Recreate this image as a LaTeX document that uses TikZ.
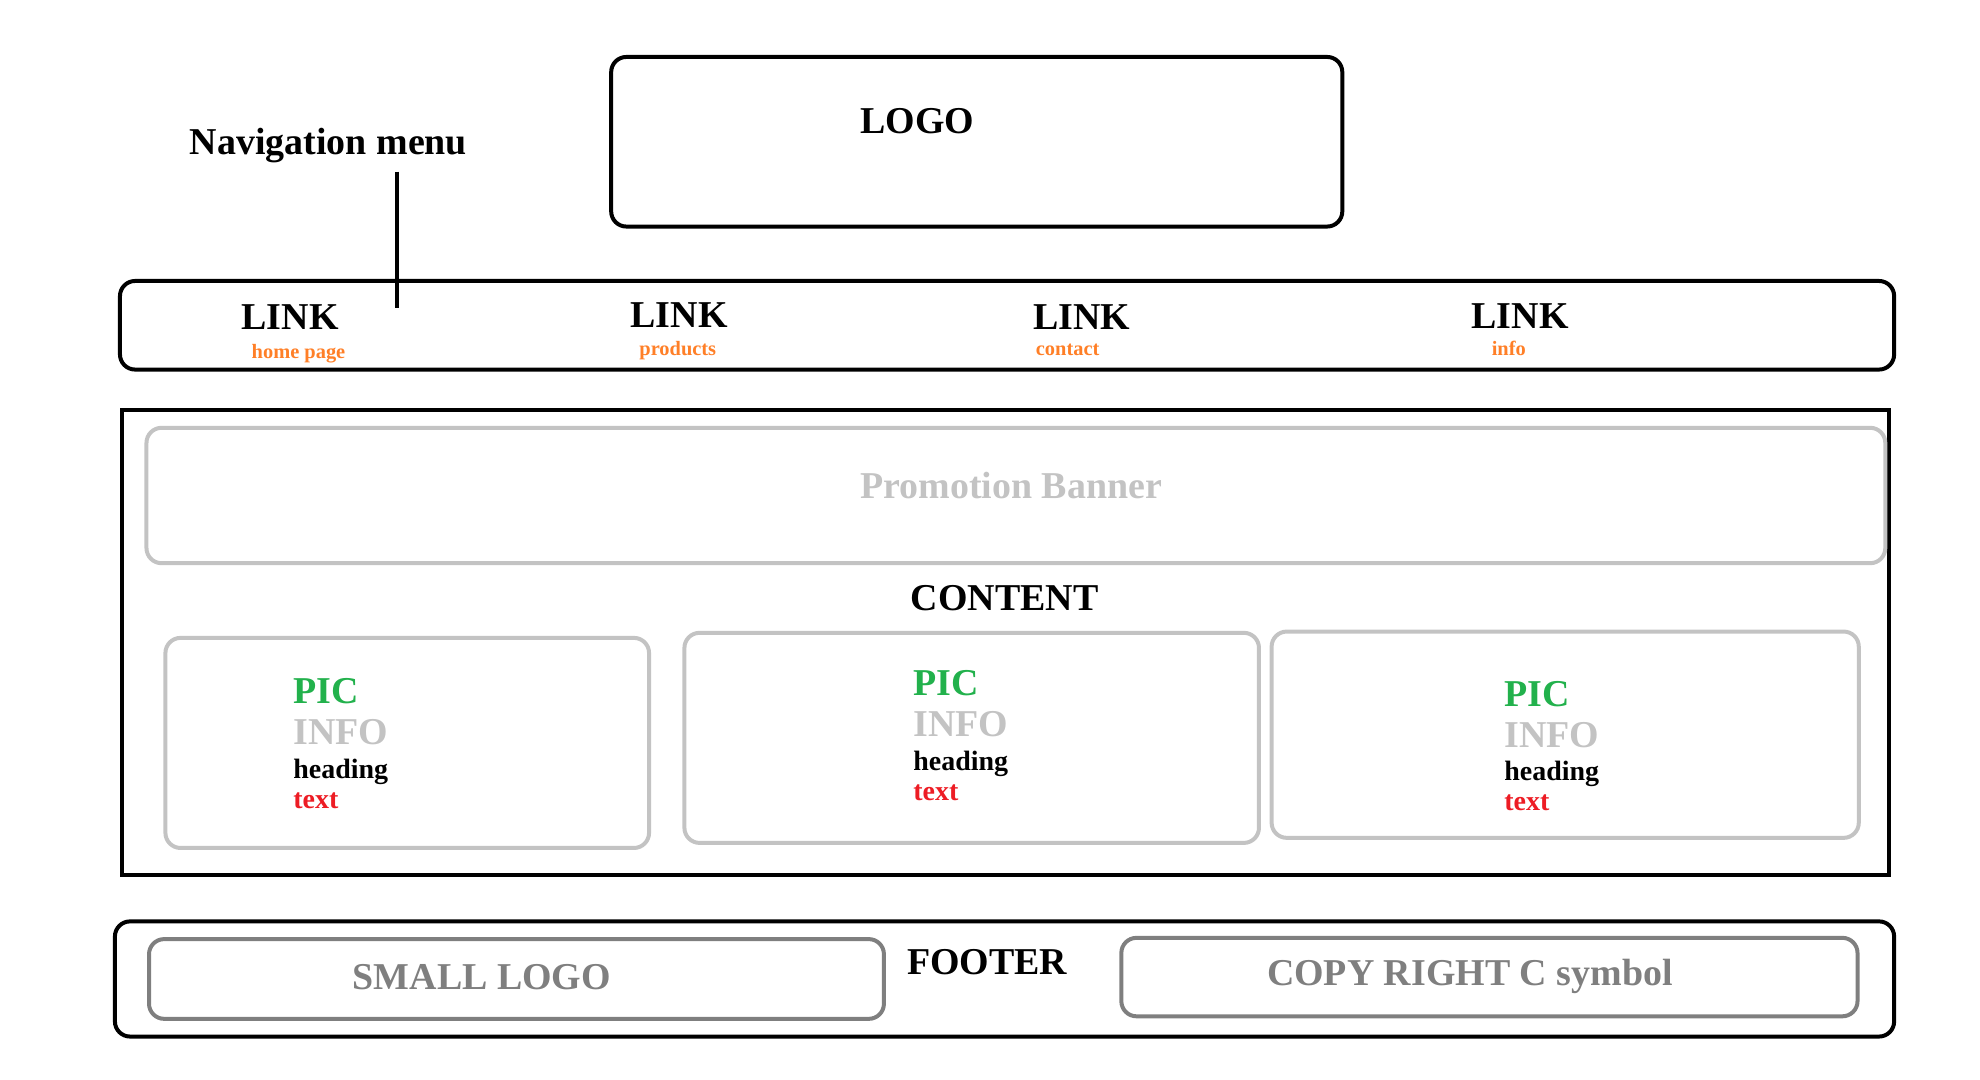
\documentclass[tikz,border=0pt]{standalone}
\usepackage{fontspec}
\setmainfont{Liberation Serif}
\usetikzlibrary{fit}
\definecolor{picgreen}{HTML}{22B14C}
\definecolor{lightgr}{HTML}{C3C3C3}
\definecolor{darkgr}{HTML}{7F7F7F}
\definecolor{txtred}{HTML}{ED1C24}
\definecolor{linkorange}{HTML}{FF7F27}
\tikzset{
  blackbox/.style={draw=black, line width=1.8pt, rounded corners=0.24cm, inner sep=0pt},
  sharpbox/.style={draw=black, line width=1.8pt, inner sep=0pt},
  greybox/.style={draw=lightgr, line width=1.8pt, rounded corners=0.24cm, inner sep=0pt},
  darkbox/.style={draw=darkgr, line width=1.8pt, rounded corners=0.24cm, inner sep=0pt},
  big/.style={inner sep=0pt, anchor=base west, font=\fontsize{17.1}{20}\selectfont\bfseries},
  mid/.style={inner sep=0pt, anchor=base west, font=\fontsize{12.6}{15}\selectfont\bfseries},
  small/.style={inner sep=0pt, anchor=base west, text=linkorange, font=\fontsize{9.2}{11}\selectfont\bfseries},
  connector/.style={draw=black, line width=1.8pt}
}
\begin{document}
\begin{tikzpicture}[x=0.02cm, y=-0.02005cm]
\useasboundingbox (0,0) rectangle (1568,853.2);
% boxes
\node[blackbox, fit={(484,45) (1063,179)}] (logobox) {};
\node[blackbox, fit={(95,222) (1500,292)}] (navbar) {};
\node[sharpbox, fit={(97,324) (1496,691)}] (contentbox) {};
\node[greybox, fit={(116,338) (1493,445)}] (banner) {};
\node[greybox, fit={(131,504) (514,670)}] (card1) {};
\node[greybox, fit={(542,500) (997,666)}] (card2) {};
\node[greybox, fit={(1007,499) (1472,662)}] (card3) {};
\node[blackbox, fit={(91,728) (1500,819)}] (footer) {};
\node[darkbox, fit={(118,742) (700,805)}] (smalllogo) {};
\node[darkbox, fit={(888,741) (1471,803)}] (copyright) {};
% texts
\node[big] (logotxt) at (681,105.3) {LOGO};
\node[big] (navtxt) at (150,122.4) {Navigation menu};
\node[big] (link1) at (191,260.2) {LINK};
\node[big] (link2) at (499,258.6) {LINK};
\node[big] (link3) at (818,260.2) {LINK};
\node[big] (link4) at (1165,259.4) {LINK};
\node[small] (sub1) at (199,283) {home page};
\node[small] (sub2) at (506,280.5) {products};
\node[small] (sub3) at (820,281.2) {contact};
\node[small] (sub4) at (1181,280.5) {info};
\node[big, text=lightgr] (bannertxt) at (681,394) {Promotion Banner};
\node[big] (contenttxt) at (721,482) {CONTENT};
% card 1
\node[big, text=picgreen] (c1pic) at (232,555.6) {PIC};
\node[big, text=lightgr] (c1info) at (232,588.6) {INFO};
\node[mid] (c1head) at (232,614.9) {heading};
\node[mid, text=txtred] (c1text) at (232,639.1) {text};
% card 2
\node[big, text=picgreen] (c2pic) at (723,549.8) {PIC};
\node[big, text=lightgr] (c2info) at (723,582) {INFO};
\node[mid] (c2head) at (723,608.8) {heading};
\node[mid, text=txtred] (c2text) at (723,632.5) {text};
% card 3
\node[big, text=picgreen] (c3pic) at (1191,558.3) {PIC};
\node[big, text=lightgr] (c3info) at (1191,590.4) {INFO};
\node[mid] (c3head) at (1191,616.7) {heading};
\node[mid, text=txtred] (c3text) at (1191,640.4) {text};
% footer
\node[big, text=darkgr] (smalllogotxt) at (279,781.5) {SMALL LOGO};
\node[big] (footertxt) at (718,770) {FOOTER};
\node[big, text=darkgr] (copytxt) at (1003,779) {COPY RIGHT C symbol};
% navigation pointer
\coordinate (navstart) at (314,135.6);
\coordinate (navend) at (314,243.6);
\draw[connector] (navstart) -- (navend);
\end{tikzpicture}
\end{document}
